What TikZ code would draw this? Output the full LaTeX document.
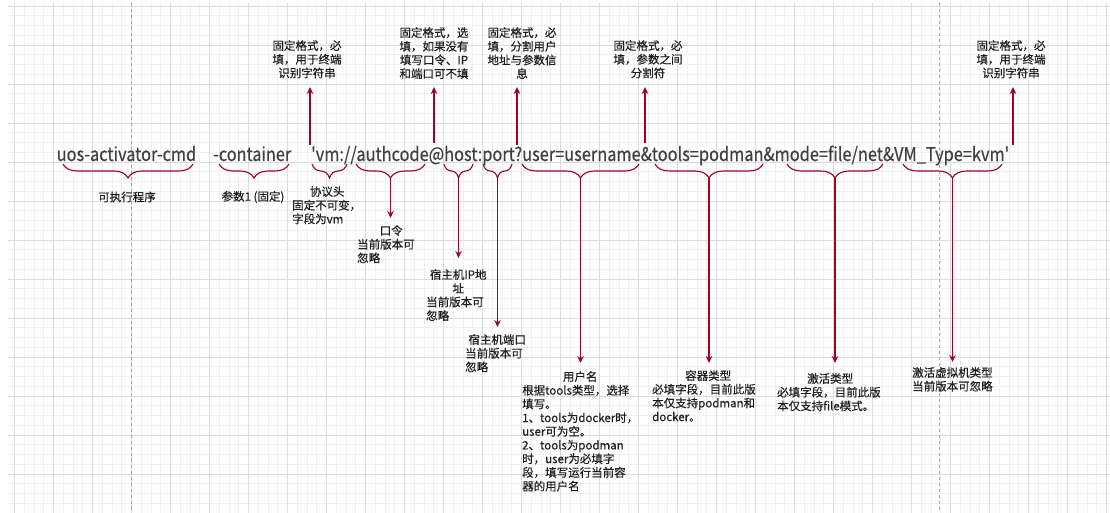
\documentclass[tikz,border=0pt]{standalone}
\usepackage{fontspec}
\usepackage{graphicx}
\setmainfont{Noto Sans CJK SC}
\newfontfamily\codefont{Noto Sans CJK SC}[Ligatures=TeXOff,FakeBold=0.4]
\newfontfamily\lblfont{Noto Sans CJK SC}[FakeBold=0.4]
\usetikzlibrary{decorations.pathreplacing,arrows.meta}
\definecolor{arr}{HTML}{A20025}
\definecolor{gmaj}{HTML}{DCDCDC}
\definecolor{gmin}{HTML}{F1F1F1}
\definecolor{txt}{HTML}{1E1E1E}
\newcommand{\ctr}[1]{\makebox[\hsize][c]{#1}}
\begin{document}
\begin{tikzpicture}[x=1pt,y=-1pt,
  lbl/.style={font=\lblfont\fontsize{11.5}{13.7}\selectfont, text=txt, inner sep=0pt, align=left, anchor=north west},
  toplbl/.style={font=\lblfont\fontsize{11.5}{13.7}\selectfont, text=txt, inner sep=0pt, align=center, anchor=north},
  brc/.style={draw=arr, line width=1.1pt, decorate, decoration={brace,mirror,amplitude=14pt}},
  arw/.style={draw=arr, line width=1.2pt, -{Stealth[length=7pt,width=6.5pt]}},
  maintxt/.style={font=\codefont\fontsize{19}{19}\selectfont, text=txt!85!white, inner sep=0pt, anchor=base west}]
\useasboundingbox (0,0) rectangle (1110,513);
\fill[white] (0,0) rectangle (1110,513);
% grid
\foreach \k in {0,...,112} {\draw[gmin, line width=0.6pt] ({14.3+9.75*\k},3) -- ({14.3+9.75*\k},513);}
\foreach \k in {0,...,52} {\draw[gmin, line width=0.6pt] (8,{6+9.75*\k}) -- (1110,{6+9.75*\k});}
\foreach \k in {0,...,28} {\draw[gmaj, line width=0.7pt] ({14.3+39*\k},3) -- ({14.3+39*\k},513);}
\foreach \k in {0,...,13} {\draw[gmaj, line width=0.7pt] (8,{6+39*\k}) -- (1110,{6+39*\k});}
\draw[gray!70, line width=0.7pt, dash pattern=on 3pt off 3pt] (131.3,3) -- (131.3,513);
\draw[gray!70, line width=0.7pt, dash pattern=on 3pt off 3pt] (939.5,3) -- (939.5,513);

% main command text
\node[maintxt] (exe) at (56.5,161) {\resizebox{139.5pt}{\height}{uos-activator-cmd}};
\node[maintxt] (ctn) at (213,161) {\resizebox{78pt}{\height}{-container}};
\node[maintxt] (url) at (311,161) {\resizebox{698pt}{\height}{'vm://authcode@host:port?user=username\&tools=podman\&mode=file/net\&VM\_Type=kvm'}};

% braces
\draw[brc] (63,164) -- (193,164);
\draw[brc] (219,164) -- (289,164);
\draw[brc] (312,164) -- (347,164);
\draw[brc] (356,164) -- (425,164);
\draw[brc] (444,164) -- (473,164);
\draw[brc] (483,164) -- (512,164);
\draw[brc] (522,164) -- (639,164);
\draw[brc] (655,164) -- (763,164);
\draw[brc] (787,164) -- (883,164);
\draw[brc] (903,164) -- (1002,164);

% brace tips
\coordinate (tauth) at (390.5,178);
\coordinate (thost) at (458.5,178);
\coordinate (tport) at (497.5,178);
\coordinate (tuser) at (580.5,178);
\coordinate (ttools) at (709,178);
\coordinate (tmode) at (835,178);
\coordinate (tvm) at (952.5,178);
\coordinate (eauth) at (390.5,218);
\coordinate (ehost) at (458.5,258);
\coordinate (eport) at (497.5,327);
\coordinate (euser) at (580.5,363);
\coordinate (etools) at (709,363);
\coordinate (emode) at (835,363);
\coordinate (evm) at (952.5,362);
\draw[arw] (tauth) -- (eauth);
\draw[arw] (thost) -- (ehost);
\draw[arw] (tport) -- (eport);
\draw[arw] (tuser) -- (euser);
\draw[arw] (ttools) -- (etools);
\draw[arw] (tmode) -- (emode);
\draw[arw] (tvm) -- (evm);

% up arrows
\coordinate (s1) at (310,145); \coordinate (e1) at (310,87);
\coordinate (s2) at (434,143); \coordinate (e2) at (434,87);
\coordinate (s3) at (517,145); \coordinate (e3) at (517,87);
\coordinate (s4) at (645,143); \coordinate (e4) at (645,87);
\coordinate (s5) at (1013,145); \coordinate (e5) at (1013,87);
\draw[arw] (s1) -- (e1);
\draw[arw] (s2) -- (e2);
\draw[arw] (s3) -- (e3);
\draw[arw] (s4) -- (e4);
\draw[arw] (s5) -- (e5);

% top labels
\node[toplbl] (ta) at (307,40) {固定格式，必\\填，用于终端\\识别字符串};
\node[toplbl] (tb) at (434,27) {固定格式，选\\填，如果没有\\填写口令、IP\\和端口可不填};
\node[toplbl] (tc) at (522,27) {固定格式，必\\填，分割用户\\地址与参数信\\息};
\node[toplbl] (td) at (648,40) {固定格式，必\\填，参数之间\\分割符};
\node[toplbl] (te) at (1011,40) {固定格式，必\\填，用于终端\\识别字符串};

% bottom labels
\node[lbl, anchor=center] (lexe) at (127,197) {可执行程序};
\node[lbl, anchor=center] (lctn) at (253,197) {参数1 (固定)};
\node[lbl, text width=70pt] (lvm) at (292,186) {\ctr{协议头}\\固定不可变，\\字段为vm};
\node[lbl, text width=68pt] (lauth) at (357,225) {\ctr{口令}\\当前版本可\\忽略};
\node[lbl, text width=64pt] (lhost) at (426,269) {\ctr{宿主机IP地}\\\ctr{址}\\当前版本可\\忽略};
\node[lbl, text width=64pt] (lport) at (465,334) {\ctr{宿主机端口}\\当前版本可\\忽略};
\node[lbl, text width=116pt] (luser) at (522,371) {\ctr{用户名}\\根据tools类型，选择\\填写。\\1、tools为docker时，\\user可为空。\\2、tools为podman\\时，user为必填字\\段，填写运行当前容\\器的用户名};
\node[lbl, text width=112pt] (ltools) at (652,370) {\ctr{容器类型}\\必填字段，目前此版\\本仅支持podman和\\docker。};
\node[lbl, text width=106pt] (lmode) at (777,373) {\ctr{激活类型}\\必填字段，目前此版\\本仅支持file模式。};
\node[lbl] (lvmt) at (912,367) {激活虚拟机类型\\当前版本可忽略};
\end{tikzpicture}
\end{document}
